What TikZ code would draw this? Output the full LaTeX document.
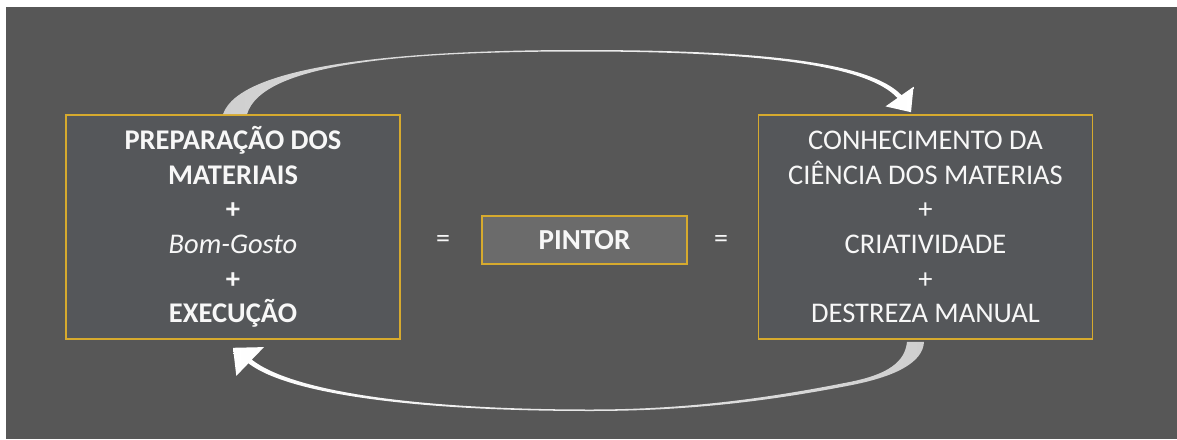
\documentclass[tikz,border=0pt]{standalone}
\usepackage{fontspec}
\setmainfont{Carlito}
\usetikzlibrary{calc}
\definecolor{bg}{HTML}{575757}
\definecolor{boxfill}{HTML}{55575A}
\definecolor{gold}{HTML}{D6AA2E}
\definecolor{pintorfill}{HTML}{6B6B6B}
\definecolor{txt}{HTML}{F7F7F7}
\definecolor{arrowgray}{HTML}{CFCFCF}
\begin{document}
\begin{tikzpicture}[x=1pt,y=-1pt,
  mainbox/.style={draw=gold, line width=1.6pt, fill=boxfill, minimum width=334pt, minimum height=224pt, inner sep=0pt, align=center, text=txt},
  pbox/.style={draw=gold, line width=1.6pt, fill=pintorfill, minimum width=205pt, minimum height=48pt, inner sep=0pt, text=txt},
  eqs/.style={text=txt, font=\fontsize{28}{30}\selectfont, inner sep=0pt}
]
\fill[white] (0,0) rectangle (1177,439);
\useasboundingbox (0,0) rectangle (1177,439);
\fill[bg] (6,7) rectangle (1177,439);

\node[mainbox, font=\bfseries\fontsize{28.5}{34.6}\selectfont] (L) at (233,227)
  {PREPARAÇÃO DOS\\MATERIAIS\\+\\{\mdseries\itshape Bom-Gosto}\\+\\EXECUÇÃO};
\node[mainbox, font=\fontsize{28.5}{34.6}\selectfont] (R) at (925.5,227)
  {CONHECIMENTO DA\\CIÊNCIA DOS MATERIAS\\+\\CRIATIVIDADE\\+\\DESTREZA MANUAL};
\node[pbox, font=\bfseries\fontsize{29}{30}\selectfont] (P) at (584.5,240) {PINTOR};
\node[eqs] (e1) at (443,241) {=};
\node[eqs] (e2) at (721,241) {=};

% top curved arrow: from L to R
\coordinate (t1o) at ($(L.north)+(-10,0)$);
\coordinate (t1i) at ($(L.north)+(14,0)$);
\coordinate (t1tip) at ($(R.north)+(-14.5,-2)$);
\shade[left color=arrowgray, right color=white]
  (t1o) .. controls (240,65) and (400,50) .. (580,50)
  .. controls (760,50) and (870,62) .. (901.5,95.2)
  -- (913.5,86.8) -- (t1tip) -- (885.5,106.4) -- (897.5,98)
  .. controls (867,65) and (760,51.5) .. (580,51.5)
  .. controls (400,51.5) and (262,64) .. (t1i) -- cycle;

% bottom curved arrow: from R to L
\coordinate (b1o) at ($(R.south)+(-1.5,2)$);
\coordinate (b1i) at ($(R.south)+(-18.5,2)$);
\coordinate (b1tip) at ($(L.south)+(0,8)$);
\shade[left color=white, right color=arrowgray]
  (b1o) .. controls (923,362) and (897,376) .. (852,385)
  .. controls (760,403) and (680,411) .. (590,411)
  .. controls (420,411) and (290,395) .. (248.4,363.3)
  -- (236.3,375.9) -- (b1tip) -- (264,347.1) -- (251.8,359.7)
  .. controls (293,392) and (420,409.5) .. (590,409.5)
  .. controls (680,409.5) and (760,400) .. (852,381.5)
  .. controls (888,374) and (905,362) .. (b1i) -- cycle;
\end{tikzpicture}
\end{document}
